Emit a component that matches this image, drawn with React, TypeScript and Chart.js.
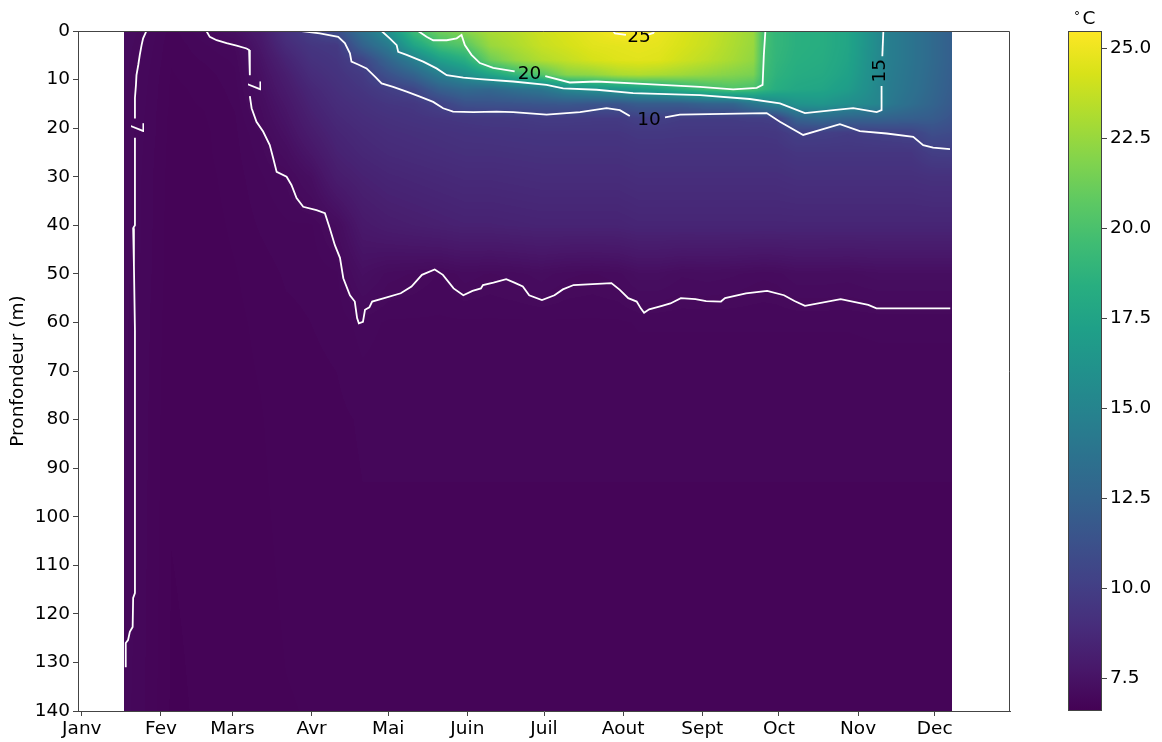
import React, { useEffect, useRef } from "react";
import { Chart, registerables } from "chart.js";

Chart.register(...registerables);

const FONT = "'DejaVu Sans', sans-serif";
const FONT_SIZE = 18.5;

// ---- axes ----
const monthDays = [0, 31, 59, 90, 120, 151, 181, 212, 243, 273, 304, 334];
const monthLabels = ["Janv", "Fev", "Mars", "Avr", "Mai", "Juin", "Juil", "Aout", "Sept", "Oct", "Nov", "Dec"];
const depthTicks = [0, 10, 20, 30, 40, 50, 60, 70, 80, 90, 100, 110, 120, 130, 140];
const colorbarTicks = [7.5, 10, 12.5, 15, 17.5, 20, 22.5, 25];
const colorMin = 6.58;
const colorMax = 25.47;

// ---- temperature grid (day of year x depth in m) ----
const gridDays = [16.5, 24, 35, 48, 60, 70, 80, 90, 100, 110, 120, 130, 140, 150, 160, 170, 180, 190, 200, 210, 218, 226, 235, 245, 255, 263, 267, 272, 280, 290, 300, 312, 316, 325, 333, 340.8];
const gridDepths = [0, 3, 6, 9, 12, 15, 18, 21, 25, 30, 40, 50, 60, 80, 140];

const temp0m = [7.15, 7.02, 6.8, 6.98, 7.3, 7.9, 9.2, 10.1, 11.0, 13.7, 15.9, 19.5, 21.3, 22.0, 23.0, 23.4, 24.0, 24.4, 24.8, 25.3, 25.3, 24.9, 24.4, 23.9, 23.2, 22.6, 19.8, 19.0, 18.5, 18.3, 17.6, 15.4, 14.6, 13.8, 13.0, 12.2];
const temp3m = [7.12, 6.99, 6.78, 6.9, 7.0, 7.7, 8.8, 9.5, 9.7, 12.4, 14.3, 17.5, 19.6, 20.4, 22.5, 23.1, 23.8, 24.2, 24.6, 24.7, 24.8, 24.7, 24.3, 23.8, 23.1, 22.5, 19.8, 19.0, 18.5, 18.3, 17.6, 15.4, 14.6, 13.8, 13.0, 12.2];
const temp6m = [7.1, 6.97, 6.77, 6.85, 6.93, 7.5, 8.4, 9.2, 9.5, 10.4, 12.6, 14.6, 17.0, 18.3, 21.2, 22.4, 23.2, 23.7, 24.2, 24.5, 24.6, 24.5, 24.0, 23.5, 22.9, 22.3, 19.7, 18.9, 18.4, 18.2, 17.5, 15.35, 14.6, 13.8, 13.0, 12.2];
const temp9m = [7.1, 6.95, 6.76, 6.8, 6.9, 7.35, 8.1, 8.9, 9.3, 9.8, 11.2, 12.5, 14.5, 15.8, 17.5, 19.0, 20.3, 22.0, 22.3, 23.0, 23.2, 23.0, 22.7, 22.3, 21.9, 21.6, 19.5, 18.7, 18.2, 18.0, 17.3, 15.3, 14.5, 13.7, 12.9, 12.1];
const temp12m = [7.08, 6.94, 6.75, 6.78, 6.87, 7.25, 7.9, 8.6, 9.1, 9.5, 10.0, 10.5, 12.2, 13.0, 12.8, 13.5, 14.0, 15.3, 16.0, 16.5, 17.0, 17.5, 18.5, 19.5, 20.2, 19.8, 19.0, 18.3, 17.8, 17.6, 16.9, 15.2, 14.4, 13.6, 12.8, 12.0];
const temp15m = [7.08, 6.93, 6.75, 6.77, 6.85, 7.15, 7.7, 8.4, 8.9, 9.2, 9.5, 9.6, 10.2, 11.2, 11.3, 11.4, 11.6, 11.7, 11.5, 11.5, 12.0, 12.0, 12.0, 12.5, 12.6, 14.0, 14.5, 15.3, 16.2, 16.4, 15.8, 15.1, 14.2, 13.3, 12.6, 11.8];
const temp18m = [7.06, 6.92, 6.74, 6.76, 6.83, 7.07, 7.55, 8.2, 8.7, 9.0, 9.2, 9.35, 9.5, 9.6, 9.7, 9.7, 9.85, 9.85, 9.8, 9.8, 10.1, 10.1, 9.9, 9.9, 9.9, 10.0, 10.0, 10.1, 12.5, 13.0, 12.5, 12.5, 12.4, 12.2, 12.0, 11.4];
const temp21m = [7.06, 6.92, 6.74, 6.75, 6.82, 6.99, 7.4, 8.0, 8.5, 8.8, 9.0, 9.1, 9.2, 9.3, 9.35, 9.4, 9.45, 9.45, 9.45, 9.45, 9.6, 9.6, 9.55, 9.55, 9.55, 9.55, 9.55, 9.6, 10.1, 10.05, 9.9, 10.1, 10.15, 10.3, 11.0, 10.8];
const temp25m = [7.05, 6.91, 6.73, 6.75, 6.81, 6.95, 7.2, 7.7, 8.3, 8.6, 8.8, 8.9, 9.0, 9.1, 9.1, 9.15, 9.2, 9.2, 9.2, 9.2, 9.3, 9.3, 9.3, 9.3, 9.3, 9.3, 9.3, 9.3, 9.5, 9.5, 9.5, 9.5, 9.5, 9.5, 10.0, 10.05];
const temp30m = [7.05, 6.9, 6.73, 6.74, 6.8, 6.9, 7.0, 7.3, 8.0, 8.3, 8.5, 8.6, 8.7, 8.8, 8.8, 8.85, 8.9, 8.9, 8.9, 8.9, 9.0, 9.0, 9.0, 9.0, 9.0, 9.0, 9.0, 9.0, 9.1, 9.1, 9.1, 9.1, 9.1, 9.1, 9.2, 9.2];
const temp40m = [7.04, 6.9, 6.72, 6.73, 6.78, 6.85, 6.9, 6.9, 7.15, 7.8, 8.0, 8.1, 8.2, 8.3, 8.3, 8.35, 8.4, 8.4, 8.4, 8.4, 8.5, 8.5, 8.5, 8.5, 8.5, 8.5, 8.5, 8.5, 8.5, 8.5, 8.5, 8.5, 8.5, 8.5, 8.5, 8.5];
const temp50m = [7.03, 6.89, 6.72, 6.72, 6.76, 6.8, 6.85, 6.86, 6.9, 7.3, 7.1, 7.05, 6.98, 7.1, 7.05, 7.1, 7.18, 7.08, 7.05, 7.1, 7.25, 7.25, 7.15, 7.18, 7.15, 7.1, 7.08, 7.1, 7.2, 7.2, 7.18, 7.25, 7.25, 7.25, 7.25, 7.25];
const temp60m = [7.02, 6.88, 6.71, 6.72, 6.75, 6.78, 6.82, 6.84, 6.86, 6.95, 6.9, 6.9, 6.9, 6.9, 6.9, 6.9, 6.9, 6.9, 6.9, 6.9, 6.92, 6.92, 6.92, 6.92, 6.92, 6.92, 6.92, 6.92, 6.92, 6.92, 6.92, 6.93, 6.93, 6.93, 6.93, 6.93];
const temp80m = [7.01, 6.87, 6.7, 6.71, 6.74, 6.76, 6.8, 6.81, 6.82, 6.85, 6.85, 6.85, 6.85, 6.85, 6.85, 6.85, 6.85, 6.85, 6.85, 6.85, 6.85, 6.85, 6.85, 6.85, 6.85, 6.85, 6.85, 6.85, 6.85, 6.85, 6.85, 6.85, 6.85, 6.85, 6.85, 6.85];
const temp140m = [6.95, 6.85, 6.68, 6.7, 6.72, 6.73, 6.76, 6.77, 6.78, 6.8, 6.8, 6.8, 6.8, 6.8, 6.8, 6.8, 6.8, 6.8, 6.8, 6.8, 6.8, 6.8, 6.8, 6.8, 6.8, 6.8, 6.8, 6.8, 6.8, 6.8, 6.8, 6.8, 6.8, 6.8, 6.8, 6.8];

const tempRows = [temp0m, temp3m, temp6m, temp9m, temp12m, temp15m, temp18m, temp21m, temp25m, temp30m, temp40m, temp50m, temp60m, temp80m, temp140m];

// ---- contour lines [day, depth] ----
const contour7aTop = [[25.3, 0], [24.0, 1.5], [23.4, 2.9], [22.7, 4.9], [22.1, 7.0], [21.4, 9.1], [21.2, 11.1], [20.8, 13.8], [20.8, 18.0]];
const contour7aBottom = [[20.8, 22.0], [20.8, 40], [20.1, 40.6], [20.4, 43.4], [20.4, 48.2], [20.8, 61.6], [20.8, 115.7], [20.1, 116.7], [19.9, 122.7], [18.8, 123.7], [18.1, 125.4], [17.2, 126], [17.2, 131]];
const contour7bTop = [[48.8, 0], [50.1, 1.2], [52.8, 1.9], [56.7, 2.5], [60.6, 3.0], [64.5, 3.6], [65.5, 3.9], [65.8, 9.1]];
const contour7bBottom = [[65.8, 13.4], [66.5, 15.9], [68.4, 18.7], [71.0, 20.7], [73.6, 23.5], [74.9, 26.1], [76.3, 29.0], [80.2, 30.0], [82.1, 31.7], [84.1, 34.4], [86.7, 36.2], [91.9, 36.9], [95.2, 37.5], [97.1, 40.6], [99.1, 44.1], [101.1, 46.7], [102.4, 50.9], [105.0, 54.4], [106.9, 55.7], [107.8, 59.1], [108.5, 60.2], [110.1, 59.9], [110.9, 57.4], [112.6, 56.9], [113.7, 55.7], [118.4, 55.0], [124.9, 54.0], [129.1, 52.6], [133.2, 50.2], [138.2, 49.1], [141.4, 50.2], [145.6, 53.0], [149.4, 54.4], [153.0, 53.5], [156.3, 53.0], [157.1, 52.3], [161.2, 51.8], [166.2, 51.1], [169.4, 51.8], [172.7, 52.6], [175.2, 54.4], [180.2, 55.4], [185.1, 54.4], [188.4, 53.2], [192.6, 52.3], [207.4, 51.9], [210.7, 53.3], [214.0, 55.0], [217.3, 55.7], [218.9, 57.1], [220.2, 58.0], [222.2, 57.3], [227.2, 56.6], [230.5, 56.1], [234.6, 55.0], [240.3, 55.2], [244.5, 55.6], [250.3, 55.7], [251.9, 55.0], [260.1, 54.0], [268.4, 53.5], [275.0, 54.4], [279.1, 55.6], [283.2, 56.6], [297.2, 55.2], [308.0, 56.4], [311.2, 57.1], [340.1, 57.1]];
const contour10Left = [[86.1, 0], [93.2, 0.5], [100.4, 1.2], [103.0, 2.5], [105.0, 4.6], [105.6, 6.3], [108.2, 6.9], [111.5, 7.7], [114.8, 9.4], [117.4, 10.8], [121.9, 11.5], [127.2, 12.5], [132.4, 13.5], [137.6, 14.6], [141.5, 15.9], [145.4, 16.6], [153.3, 16.7], [162.4, 16.6], [168.9, 16.7], [182.0, 17.2], [195.1, 16.7], [205.5, 15.9], [210.7, 16.3], [214.6, 17.5]];
const contour10Right = [[228.4, 17.8], [234.2, 17.2], [268.2, 16.9], [273.4, 18.7], [282.5, 21.4], [296.9, 19.2], [304.7, 20.6], [315.2, 21.1], [325.6, 21.8], [329.5, 23.5], [333.4, 24.0], [340.0, 24.3]];
const contour15Main = [[117.4, 0], [120.6, 1.5], [123.3, 2.9], [123.9, 4.3], [127.2, 4.9], [133.7, 6.3], [138.9, 7.7], [142.9, 9.1], [149.4, 9.6], [155.9, 9.9], [168.9, 10.4], [182.0, 11.1], [188.5, 11.8], [201.6, 12.1], [215.9, 12.8], [242.1, 13.2], [261.6, 14.0], [273.4, 14.9], [283.2, 16.9], [294.3, 16.3], [302.1, 15.9], [311.3, 16.7], [313.2, 16.3], [313.2, 11.3]];
const contour15Top = [[313.5, 5.2], [313.9, 0]];
const contour20Left = [[131.7, 0], [135.0, 1.2], [137.6, 1.9], [142.9, 1.9], [146.8, 1.5], [148.7, 0.8], [150.0, 2.9], [152.6, 4.9], [155.9, 6.6], [161.1, 7.6], [169.5, 8.3]];
const contour20Right = [[181.5, 9.3], [191.1, 10.6], [201.6, 10.4], [215.9, 10.8], [242.1, 11.5], [255.1, 12.0], [264.3, 11.7], [266.6, 11.1], [267.1, 4.9], [267.7, 0]];
const contour25Left = [[208.0, 0], [208.8, 0.5], [213.1, 0.8]];
const contour25Right = [[221.5, 0.8], [223.8, 0.4], [224.2, 0]];

const contourSegments = [contour7aTop, contour7aBottom, contour7bTop, contour7bBottom, contour10Left, contour10Right, contour15Main, contour15Top, contour20Left, contour20Right, contour25Left, contour25Right];

const contourLabels = [
  { text: "25", day: 218.2, depth: 1.3, angle: 0, color: "#000000" },
  { text: "20", day: 175.3, depth: 8.8, angle: 0, color: "#000000" },
  { text: "10", day: 222.1, depth: 18.4, angle: 0, color: "#000000" },
  { text: "15", day: 312.6, depth: 8.2, angle: -90, color: "#000000" },
  { text: "7", day: 21.3, depth: 19.9, angle: 90, color: "#ffffff" },
  { text: "7", day: 66.8, depth: 11.3, angle: 90, color: "#ffffff" },
];

// ---- viridis colour map ----
const VIRIDIS = ["#440154", "#48186a", "#472d7b", "#424086", "#3b528b", "#33638d", "#2c728e", "#26828e", "#21918c", "#1fa088", "#28ae80", "#3fbc73", "#5ec962", "#84d44b", "#addc30", "#d8e219", "#fde725"];

function hexRgb(h: string): number[] {
  return [parseInt(h.slice(1, 3), 16), parseInt(h.slice(3, 5), 16), parseInt(h.slice(5, 7), 16)];
}
const VIRIDIS_RGB = VIRIDIS.map(hexRgb);
const LUT: number[][] = [];
for (let i = 0; i < 256; i++) {
  const f = (i / 255) * (VIRIDIS_RGB.length - 1);
  const k = Math.min(Math.floor(f), VIRIDIS_RGB.length - 2);
  const t = f - k;
  const a = VIRIDIS_RGB[k], b = VIRIDIS_RGB[k + 1];
  LUT.push([a[0] + (b[0] - a[0]) * t, a[1] + (b[1] - a[1]) * t, a[2] + (b[2] - a[2]) * t]);
}
function colorIndex(v: number): number {
  const f = (v - colorMin) / (colorMax - colorMin);
  return Math.max(0, Math.min(255, Math.round(f * 255)));
}

function locate(arr: number[], v: number): [number, number] {
  if (v <= arr[0]) return [0, 0];
  const n = arr.length;
  if (v >= arr[n - 1]) return [n - 2, 1];
  let k = 0;
  while (k < n - 2 && arr[k + 1] < v) k++;
  return [k, (v - arr[k]) / (arr[k + 1] - arr[k])];
}

const heatmapPlugin = {
  id: "heatmap",
  beforeDatasetsDraw(chart: any) {
    const { ctx, scales } = chart;
    const xs = scales.x, ys = scales.y;
    const px0 = Math.round(xs.getPixelForValue(gridDays[0]));
    const px1 = Math.round(xs.getPixelForValue(gridDays[gridDays.length - 1]));
    const py0 = Math.round(ys.getPixelForValue(gridDepths[0]));
    const py1 = Math.round(ys.getPixelForValue(gridDepths[gridDepths.length - 1]));
    const w = px1 - px0, h = py1 - py0;
    if (w <= 0 || h <= 0) return;
    const off = document.createElement("canvas");
    off.width = w; off.height = h;
    const octx = off.getContext("2d")!;
    const img = octx.createImageData(w, h);
    const colK: number[] = [], colF: number[] = [];
    for (let i = 0; i < w; i++) {
      const [k, f] = locate(gridDays, xs.getValueForPixel(px0 + i + 0.5));
      colK.push(k); colF.push(f);
    }
    for (let j = 0; j < h; j++) {
      const [m, fy] = locate(gridDepths, ys.getValueForPixel(py0 + j + 0.5));
      const r0 = tempRows[m], r1 = tempRows[m + 1];
      for (let i = 0; i < w; i++) {
        const k = colK[i], fx = colF[i];
        const a = r0[k] + (r0[k + 1] - r0[k]) * fx;
        const b = r1[k] + (r1[k + 1] - r1[k]) * fx;
        const c = LUT[colorIndex(a + (b - a) * fy)];
        const p = (j * w + i) * 4;
        img.data[p] = c[0]; img.data[p + 1] = c[1]; img.data[p + 2] = c[2]; img.data[p + 3] = 255;
      }
    }
    octx.putImageData(img, 0, 0);
    ctx.save();
    ctx.drawImage(off, px0, py0, w, h);
    ctx.restore();
  },
};

const overlayPlugin = {
  id: "overlay",
  afterDatasetsDraw(chart: any) {
    const { ctx, chartArea, scales } = chart;
    const { left, top, right, bottom } = chartArea;
    ctx.save();
    ctx.beginPath();
    ctx.rect(left, top, right - left, bottom - top);
    ctx.clip();
    ctx.font = `${FONT_SIZE}px ${FONT}`;
    ctx.textAlign = "center";
    ctx.textBaseline = "middle";
    for (const lab of contourLabels) {
      const px = scales.x.getPixelForValue(lab.day);
      const py = scales.y.getPixelForValue(lab.depth);
      ctx.save();
      ctx.translate(px, py);
      ctx.rotate((lab.angle * Math.PI) / 180);
      ctx.fillStyle = lab.color;
      ctx.fillText(lab.text, 0, 0);
      ctx.restore();
    }
    ctx.restore();
    // top and right spines
    ctx.save();
    ctx.strokeStyle = "#444444";
    ctx.lineWidth = 1;
    ctx.beginPath();
    ctx.moveTo(left, Math.round(top) + 0.5);
    ctx.lineTo(Math.round(right) - 0.5, Math.round(top) + 0.5);
    ctx.lineTo(Math.round(right) - 0.5, bottom);
    ctx.stroke();
    ctx.restore();
  },
  afterDraw(chart: any) {
    const { ctx, chartArea } = chart;
    const x0 = Math.round(chartArea.right) + 58;
    const cw = 34;
    const y0 = Math.round(chartArea.top);
    const y1 = Math.round(chartArea.bottom);
    ctx.save();
    const g = ctx.createLinearGradient(0, y1, 0, y0);
    VIRIDIS.forEach((c, i) => g.addColorStop(i / (VIRIDIS.length - 1), c));
    ctx.fillStyle = g;
    ctx.fillRect(x0, y0, cw, y1 - y0);
    ctx.strokeStyle = "#444444";
    ctx.lineWidth = 1;
    ctx.strokeRect(x0 + 0.5, y0 + 0.5, cw - 1, y1 - y0 - 1);
    ctx.fillStyle = "#000000";
    ctx.font = `${FONT_SIZE}px ${FONT}`;
    ctx.textAlign = "left";
    ctx.textBaseline = "middle";
    for (const v of colorbarTicks) {
      const y = y1 - ((v - colorMin) / (colorMax - colorMin)) * (y1 - y0);
      ctx.beginPath();
      ctx.moveTo(x0 + cw, Math.round(y) + 0.5);
      ctx.lineTo(x0 + cw + 5, Math.round(y) + 0.5);
      ctx.stroke();
      ctx.fillText(v.toFixed(1), x0 + cw + 8, y);
    }
    // unit label
    ctx.textAlign = "center";
    ctx.textBaseline = "alphabetic";
    ctx.font = `12px ${FONT}`;
    ctx.fillText("°", x0 + cw / 2 - 8, y0 - 11);
    ctx.font = `${FONT_SIZE}px ${FONT}`;
    ctx.fillText("C", x0 + cw / 2 + 4, y0 - 7);
    ctx.restore();
  },
};

export default function App() {
  const ref = useRef<HTMLCanvasElement | null>(null);
  useEffect(() => {
    if (!ref.current) return;
    const axisFont = { size: FONT_SIZE, family: FONT };
    const datasets = contourSegments.map((seg) => ({
      data: seg.map(([d, z]) => ({ x: d, y: z })),
      showLine: true,
      borderColor: "#ffffff",
      borderWidth: 1.8,
      pointRadius: 0,
      tension: 0,
      fill: false,
    }));
    const chart = new Chart(ref.current, {
      type: "scatter",
      data: { datasets },
      plugins: [heatmapPlugin, overlayPlugin],
      options: {
        animation: false,
        responsive: false,
        devicePixelRatio: 1,
        layout: { padding: { top: 31, right: 152, bottom: 0, left: 0 } },
        plugins: { legend: { display: false }, tooltip: { enabled: false } },
        scales: {
          x: {
            type: "linear",
            min: -1.5,
            max: 363.5,
            afterBuildTicks: (s: any) => { s.ticks = monthDays.map((v) => ({ value: v })); },
            afterFit: (s: any) => { s.height = 31; },
            ticks: {
              autoSkip: false,
              maxRotation: 0,
              color: "#000000",
              font: axisFont,
              padding: 2,
              callback: (_v: any, i: number) => monthLabels[i],
            },
            grid: { drawOnChartArea: false, drawTicks: true, tickLength: 5, color: "#444444", lineWidth: 1 },
            border: { display: true, color: "#444444", width: 1 },
          },
          y: {
            type: "linear",
            reverse: true,
            min: 0,
            max: 140,
            afterBuildTicks: (s: any) => { s.ticks = depthTicks.map((v) => ({ value: v })); },
            afterFit: (s: any) => { s.width = 78; },
            ticks: {
              autoSkip: false,
              color: "#000000",
              font: axisFont,
              padding: 3,
              callback: (v: any) => String(v),
            },
            grid: { drawOnChartArea: false, drawTicks: true, tickLength: 5, color: "#444444", lineWidth: 1 },
            border: { display: true, color: "#444444", width: 1 },
            title: {
              display: true,
              text: "Pronfondeur (m)",
              color: "#000000",
              font: axisFont,
              padding: { top: 7, bottom: 0 },
            },
          },
        },
      } as any,
    });
    return () => chart.destroy();
  }, []);
  return (
    <div style={{ position: "absolute", left: 0, top: 0, width: 1162, height: 742, background: "#ffffff" }}>
      <canvas ref={ref} width={1162} height={742} style={{ width: 1162, height: 742, display: "block" }} />
    </div>
  );
}
